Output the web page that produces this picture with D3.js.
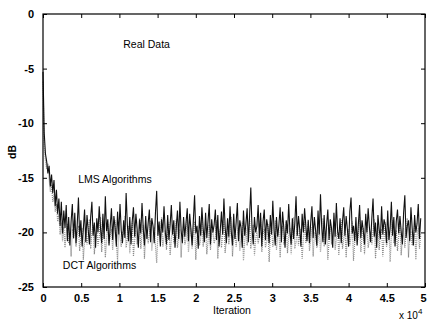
<!DOCTYPE html>
<html>
<head>
<meta charset="utf-8">
<script src="https://cdn.jsdelivr.net/npm/d3@7"></script>
<style>
  body { margin: 0; background: #fff; }
  svg { display: block; font-family: "Liberation Sans", Arial, sans-serif; }
</style>
</head>
<body>
<svg id="chart" width="427" height="323"></svg>
<script>
// one value every 160 iterations, starting at iteration 0
const step = 160
const xTicks = [0, 0.5, 1, 1.5, 2, 2.5, 3, 3.5, 4, 4.5, 5]
const yTicks = [0, -5, -10, -15, -20, -25]

const lmsDb = [
  -5.3, -10.9, -12.8, -13.5, -14.6, -13.9, -15.8, -14.7, -16.4, -15.2,
  -17.6, -16.1, -18.3, -16.9, -19.4, -17.2, -20.1, -18.0, -19.6, -17.5,
  -20.8, -18.6, -21.2, -19.0, -17.4, -20.5, -18.2, -21.0, -19.3, -16.8,
  -20.4, -18.9, -21.3, -19.7, -17.9, -20.9, -18.4, -19.8, -21.1, -18.6,
  -17.2, -20.3, -19.1, -21.4, -18.7, -20.0, -17.6, -19.5, -21.0, -18.3,
  -20.6, -16.7, -19.9, -18.8, -21.2, -19.4, -17.8, -20.7, -18.5, -19.6,
  -21.3, -18.1, -20.2, -17.4, -19.8, -21.0, -18.9, -20.5, -16.4, -19.3,
  -20.8, -18.6, -21.1, -19.0, -17.7, -20.4, -18.3, -19.7, -21.4, -18.8,
  -20.1, -17.3, -19.6, -21.2, -18.5, -20.6, -19.2, -17.9, -20.9, -18.7,
  -19.4, -21.0, -18.2, -16.2, -20.3, -19.0, -21.3, -18.8, -20.0, -17.6,
  -19.9, -21.1, -18.4, -20.7, -19.3, -17.5, -20.2, -18.9, -21.4, -19.5,
  -18.0, -20.6, -17.2, -19.8, -21.0, -18.6, -20.4, -19.1, -17.8, -20.8,
  -18.3, -19.7, -21.2, -18.9, -16.6, -20.1, -19.4, -21.5, -18.5, -20.3,
  -17.7, -19.6, -20.9, -18.2, -20.5, -19.0, -17.4, -21.1, -18.8, -20.0,
  -19.3, -17.9, -20.7, -18.4, -21.3, -19.8, -18.1, -20.2, -16.9, -19.5,
  -21.0, -18.7, -20.4, -17.6, -19.9, -21.2, -18.3, -20.6, -19.1, -17.3,
  -20.8, -18.9, -19.6, -21.4, -18.0, -20.3, -19.2, -17.8, -20.9, -18.5,
  -15.9, -19.7, -21.1, -18.6, -20.0, -19.4, -17.5, -20.5, -18.2, -21.3,
  -19.0, -17.9, -20.7, -18.8, -19.5, -21.0, -18.4, -20.2, -17.1, -19.8,
  -21.2, -18.6, -20.4, -19.3, -17.7, -20.9, -18.1, -19.6, -21.4, -18.9,
  -20.1, -17.4, -19.9, -21.1, -18.7, -20.6, -19.2, -16.7, -20.3, -18.5,
  -19.7, -21.3, -18.3, -20.0, -17.8, -19.4, -20.8, -18.9, -21.0, -19.1,
  -17.6, -20.5, -18.6, -19.8, -21.2, -18.0, -20.2, -16.5, -19.5, -20.9,
  -18.4, -21.1, -19.3, -17.9, -20.7, -18.8, -19.6, -21.4, -18.2, -20.4,
  -17.3, -19.9, -20.6, -18.7, -21.0, -19.0, -17.7, -20.3, -18.5, -19.7,
  -21.3, -18.1, -16.8, -20.1, -19.4, -20.8, -18.6, -21.2, -19.2, -17.5,
  -20.5, -18.9, -19.8, -21.1, -18.3, -20.0, -17.8, -19.5, -20.9, -18.7,
  -16.9, -20.4, -19.1, -21.4, -18.4, -19.7, -20.6, -17.6, -20.2, -18.8,
  -19.3, -21.0, -18.0, -20.7, -19.6, -17.2, -20.3, -18.6, -21.3, -19.0,
  -17.9, -20.1, -18.5, -19.9, -21.1, -18.2, -16.6, -20.5, -19.4, -18.9,
  -20.8, -17.7, -19.6, -21.2, -18.4, -20.0, -19.2, -17.4, -20.6, -18.7
]

const dctDb = [
  -6.2, -12.1, -13.4, -14.2, -13.7, -15.1, -16.3, -15.6, -17.2, -16.5,
  -18.1, -17.4, -19.0, -18.3, -20.2, -19.1, -20.8, -19.5, -21.4, -20.0,
  -19.2, -21.0, -20.3, -22.2, -19.7, -20.6, -18.9, -21.3, -20.1, -19.4,
  -21.7, -20.4, -19.6, -22.5, -20.8, -19.9, -21.1, -20.2, -18.8, -21.5,
  -20.0, -19.3, -22.0, -20.6, -19.8, -21.2, -20.4, -18.6, -21.8, -20.1,
  -19.5, -22.3, -20.7, -19.2, -21.0, -20.3, -19.7, -21.6, -20.0, -18.9,
  -20.9, -22.6, -19.6, -20.5, -21.3, -19.9, -20.2, -18.5, -21.4, -20.6,
  -19.4, -21.9, -20.1, -19.0, -22.2, -20.7, -19.8, -21.1, -20.4, -18.7,
  -21.5, -20.0, -19.3, -22.4, -20.5, -19.7, -21.0, -20.2, -18.9, -21.7,
  -20.3, -19.5, -21.2, -22.8, -20.0, -19.6, -20.9, -18.6, -21.3, -20.4,
  -19.8, -21.6, -20.2, -19.1, -22.1, -20.6, -19.4, -21.0, -20.0, -18.8,
  -21.4, -20.5, -19.7, -22.3, -20.1, -19.2, -21.1, -20.7, -18.5, -21.8,
  -20.3, -19.6, -21.5, -20.0, -19.0, -22.5, -20.4, -19.8, -21.2, -20.6,
  -18.7, -21.3, -20.2, -19.5, -22.0, -20.8, -19.3, -21.6, -20.1, -19.9,
  -21.0, -20.5, -18.9, -22.4, -20.3, -19.7, -21.4, -20.0, -19.1, -21.9,
  -20.6, -19.4, -21.1, -20.2, -18.6, -22.2, -20.7, -19.8, -21.3, -20.1,
  -19.5, -21.7, -20.4, -19.0, -22.6, -20.9, -19.6, -21.2, -20.3, -18.8,
  -21.5, -20.0, -19.3, -22.1, -20.6, -19.9, -21.0, -20.4, -18.7, -21.8,
  -20.2, -19.7, -21.4, -20.8, -19.2, -22.7, -20.1, -19.5, -21.3, -20.5,
  -18.9, -21.6, -20.3, -19.8, -22.3, -20.0, -19.4, -21.1, -20.7, -19.0,
  -21.9, -20.4, -19.6, -22.0, -20.2, -18.6, -21.5, -20.9, -19.3, -21.2,
  -20.0, -19.7, -22.4, -20.5, -19.1, -21.0, -20.3, -18.8, -21.7, -20.6,
  -19.5, -22.2, -20.1, -19.9, -21.4, -20.7, -19.2, -21.8, -20.4, -18.7,
  -21.3, -20.0, -19.6, -22.5, -20.8, -19.3, -21.1, -20.2, -19.0, -21.6,
  -20.5, -19.8, -22.1, -20.3, -18.9, -21.5, -20.6, -19.4, -22.3, -20.1,
  -19.7, -21.2, -20.4, -19.0, -22.6, -20.9, -19.5, -21.0, -20.3, -18.6,
  -21.8, -20.2, -19.6, -22.0, -20.5, -19.2, -21.4, -20.7, -19.9, -21.1,
  -20.0, -18.8, -22.4, -20.6, -19.4, -21.6, -20.1, -19.7, -22.2, -20.4,
  -19.1, -21.3, -20.8, -19.5, -22.7, -20.2, -18.9, -21.0, -20.5, -19.8,
  -21.7, -20.3, -19.2, -22.1, -20.6, -19.6, -21.4, -20.0, -18.7, -22.3,
  -20.4, -19.9, -21.2, -20.7, -19.3, -22.5, -20.1, -19.6, -21.5, -20.2
]

const margin = {top: 14, right: 2, bottom: 36, left: 43}
const width = 427 - margin.left - margin.right
const height = 323 - margin.top - margin.bottom

const svg = d3.select('#chart')
const g = svg.append('g').attr('transform', `translate(${margin.left},${margin.top})`)

const x = d3.scaleLinear().domain([0, 5]).range([0, width])
const y = d3.scaleLinear().domain([-25, 0]).range([height, 0])

const line = d3.line()
  .x((d, i) => x(i * step / 1e4))
  .y(d => y(d))

// DCT drawn as grey dotted trace, LMS dark on top
g.append('path')
  .datum(dctDb)
  .attr('fill', 'none')
  .attr('stroke', '#8a8a8a')
  .attr('stroke-width', 1.2)
  .attr('stroke-dasharray', '1,1')
  .attr('d', line)

g.append('path')
  .datum(lmsDb)
  .attr('fill', 'none')
  .attr('stroke', '#111')
  .attr('stroke-width', 1.1)
  .attr('d', line)

// axes, matlab style ticks pointing in
const tickStyle = sel => {
  sel.select('.domain').remove()
  sel.selectAll('line').attr('stroke', '#000')
}

g.append('g')
  .attr('transform', `translate(0,${height})`)
  .call(d3.axisBottom(x).tickValues(xTicks).tickSizeInner(-4).tickSizeOuter(0).tickPadding(7)
    .tickFormat(d => d))
  .call(tickStyle)
  .selectAll('text')
  .attr('font-size', 11).attr('font-weight', 'bold').attr('fill', '#000')
  .attr('dx', d => d === 5 ? -2 : 0)

g.append('g')
  .call(d3.axisTop(x).tickValues(xTicks).tickSizeInner(-4).tickSizeOuter(0).tickFormat(''))
  .call(tickStyle)

g.append('g')
  .call(d3.axisLeft(y).tickValues(yTicks).tickSizeInner(-4).tickSizeOuter(0).tickPadding(9)
    .tickFormat(d => d))
  .call(tickStyle)
  .selectAll('text')
  .attr('font-size', 11).attr('font-weight', 'bold').attr('fill', '#000')

g.append('g')
  .attr('transform', `translate(${width},0)`)
  .call(d3.axisRight(y).tickValues(yTicks).tickSizeInner(-4).tickSizeOuter(0).tickFormat(''))
  .call(tickStyle)

g.append('rect')
  .attr('width', width).attr('height', height)
  .attr('fill', 'none').attr('stroke', '#000').attr('stroke-width', 1.2)

// labels
g.append('text').attr('x', x(1.05)).attr('y', y(-3.1))
  .attr('font-size', 10.5).text('Real Data')
g.append('text').attr('x', x(0.46)).attr('y', y(-15.5))
  .attr('font-size', 10.5).text('LMS Algorithms')
g.append('text').attr('x', x(0.26)).attr('y', y(-23.35))
  .attr('font-size', 10.5).text('DCT Algorithms')

svg.append('text')
  .attr('x', 232).attr('y', 314)
  .attr('text-anchor', 'middle').attr('font-size', 10.5)
  .text('Iteration')

svg.append('text')
  .attr('transform', 'translate(16,152) rotate(-90)')
  .attr('text-anchor', 'middle').attr('font-size', 10.5).attr('font-weight', 'bold')
  .text('dB')

const pow = svg.append('text').attr('x', 399).attr('y', 319).attr('font-size', 10)
pow.append('tspan').text('x 10')
pow.append('tspan').attr('dy', -5).attr('font-size', 8).text('4')
</script>
</body>
</html>
